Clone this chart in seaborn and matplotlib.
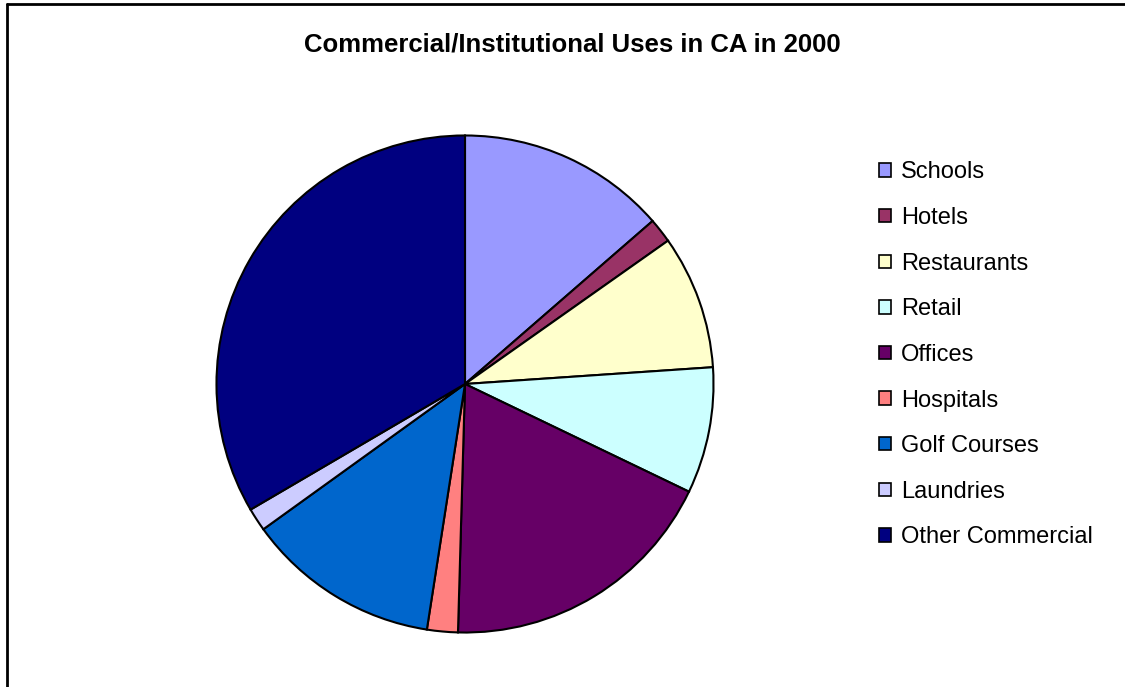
import matplotlib
matplotlib.use("Agg")
import matplotlib.pyplot as plt
import seaborn as sns
from matplotlib.lines import Line2D

categories = ["Schools", "Hotels", "Restaurants", "Retail", "Offices",
              "Hospitals", "Golf Courses", "Laundries", "Other Commercial"]
values = [13.6, 1.6, 8.7, 8.2, 18.3, 2.0, 12.6, 1.5, 33.4]
colors = ["#9999FF", "#993366", "#FFFFCC", "#CCFFFF", "#660066",
          "#FF8080", "#0066CC", "#CCCCFF", "#000080"]
title = "Commercial/Institutional Uses in CA in 2000"

sns.set_theme(style="white")
plt.rcParams["font.family"] = ["Liberation Sans", "DejaVu Sans"]
plt.rcParams["text.color"] = "black"

W, H = 1125, 687
fig = plt.figure(figsize=(W / 100, H / 100), dpi=100)
fig.patch.set_facecolor("white")

cx, cy, r = 465, 384, 251
ax = fig.add_axes([(cx - r) / W, (H - cy - r) / H, 2 * r / W, 2 * r / H])
wedges, _ = ax.pie(values, colors=colors, startangle=90, counterclock=False,
                   radius=1.0,
                   wedgeprops=dict(edgecolor="black", linewidth=1.5))
ax.set_xlim(-1.01, 1.01)
ax.set_ylim(-1.01, 1.01)
ax.set_aspect("equal")
ax.axis("off")

fig.text(572 / W, 1 - 45 / H, title, ha="center", va="center",
         fontsize=18.5, fontweight="bold", color="black")

leg = fig.legend(wedges, categories, loc="upper left",
                 bbox_to_anchor=(870 / W, 1 - 152 / H), frameon=False,
                 fontsize=17, handlelength=0.5, handleheight=0.5,
                 handletextpad=0.4, labelspacing=1.0, borderaxespad=0)
for h in leg.legend_handles:
    h.set_edgecolor("black")
    h.set_linewidth(1.2)
for t in leg.get_texts():
    t.set_color("black")

# chart frame
fig.add_artist(Line2D([7 / W, 1.0], [1 - 4 / H, 1 - 4 / H], color="black",
                      linewidth=2, transform=fig.transFigure))
fig.add_artist(Line2D([7 / W, 7 / W], [1 - 4 / H, 0.0], color="black",
                      linewidth=2, transform=fig.transFigure))

fig.savefig("out.png", dpi=100, facecolor="white")
